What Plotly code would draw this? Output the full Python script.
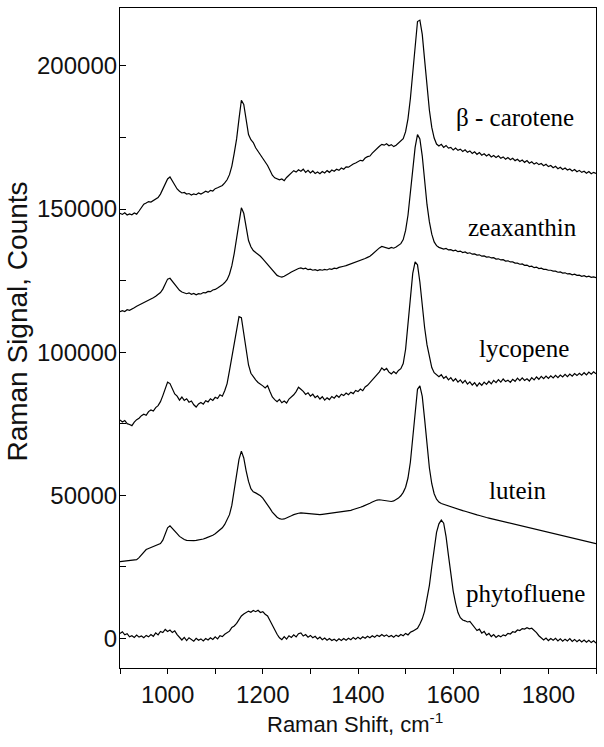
"""Raman spectra of five carotenoids, stacked with offsets"""

import plotly.graph_objects as go

# Raman shift grid, cm-1 (every 5 from 900 to 1900)
shift = list(range(900, 1901, 5))

# counts, one value per grid point
beta_carotene = [
    148500, 148100, 148700, 147900, 148300, 148000, 148600, 148200, 149300, 150600,
    151700, 152100, 152600, 152400, 153000, 153300, 154000, 155200, 156800, 158600,
    160500, 161200, 159800, 158300, 157000, 156200, 155600, 155800, 155200, 155400,
    154900, 155300, 155000, 155600, 155200, 155700, 156200, 155800, 156500, 156300,
    157100, 157400, 157900, 158200, 159100, 160200, 162000, 165000, 169500, 174500,
    181500, 188000, 186500, 180500, 176000, 174200, 173200, 171400, 170200, 169000,
    168000, 166800, 165200, 163500, 161800, 160900, 160600, 160200, 160500, 159900,
    161000, 161800, 162500, 163400, 162900, 163700, 163200, 163900, 162800, 163500,
    162600, 163300, 162400, 162900, 162300, 163100, 162600, 163400, 162800, 163600,
    163200, 163900, 163500, 164300, 163900, 164700, 164600, 165300, 165700, 166100,
    166500, 167000, 166800, 167800, 168300, 168500, 169500, 170400, 171000, 171900,
    172600, 172300, 172800, 172100, 172500, 171800, 172300, 173000, 173600, 174600,
    177000, 181500, 188500, 198000, 209000, 215500, 216000, 211000, 202000, 192500,
    184500, 178500, 174800, 172700, 172000, 172600, 171500, 172200, 171300, 171500,
    170600, 171300, 170500, 170900, 170100, 170700, 169800, 170300, 169400, 170000,
    169100, 169700, 168800, 169300, 168500, 169100, 168200, 168700, 168000, 168600,
    167700, 168200, 167400, 168000, 167200, 167700, 166900, 167400, 166600, 167100,
    166300, 166900, 166000, 166500, 165700, 166200, 165500, 165900, 165100, 165600,
    164800, 165200, 164400, 164900, 164100, 164600, 163800, 164300, 163600, 164000,
    163300, 163800, 163000, 163500, 162800, 163200, 162500, 163100, 162300, 162800,
    162400,
]

zeaxanthin = [
    114100, 114500, 114200, 114800, 114600, 115200, 115500, 116000, 116400, 116900,
    117300, 117800, 118100, 118600, 119000, 119500, 120100, 120800, 122000, 123600,
    125500, 125800, 124700, 123800, 122600, 121600, 121000, 120700, 120400, 120700,
    120200, 120500, 120000, 120400, 120300, 120800, 120700, 121200, 121100, 121700,
    121900, 122400, 122900, 123500, 124300, 125300, 127200, 130200, 134500, 140000,
    146500, 150400, 148500, 143500, 139000, 136800, 135500, 134800, 134200, 133500,
    132600, 131600, 130500, 129600, 128600, 127700, 126800, 126400, 126200, 126500,
    126900, 127500, 128000, 128500, 128900, 129200, 129400, 129100, 129300, 128800,
    129000, 128600, 128800, 128500, 128800, 128600, 128900, 128700, 129100, 128900,
    129300, 129200, 129600, 129700, 130000, 130200, 130500, 130700, 131000, 131300,
    131600, 131900, 132300, 132700, 133100, 133500, 134200, 135000, 135800, 136400,
    136900, 136700, 136500, 136200, 136600, 136300, 136700, 137200, 137900, 139300,
    142500, 147800, 155000, 163500, 171500, 176000, 174500, 168500, 159500, 151500,
    145500, 141200, 138500, 137200, 136600, 136400, 136000, 136200, 135700, 135800,
    135400, 135600, 135100, 135300, 134800, 135000, 134500, 134700, 134200, 134300,
    133900, 134000, 133500, 133600, 133200, 133300, 132900, 133000, 132500, 132600,
    132200, 132300, 131800, 131900, 131500, 131500, 131100, 131100, 130700, 130800,
    130300, 130400, 129900, 130000, 129500, 129700, 129200, 129300, 128900, 128900,
    128600, 128600, 128300, 128300, 127900, 128000, 127600, 127700, 127300, 127400,
    127000, 127200, 126800, 126900, 126500, 126700, 126300, 126500, 126100, 126300,
    126000,
]

lycopene = [
    76300, 75600, 76100, 75000, 74700, 74300, 75500, 76400, 76900, 77800,
    78300, 77900, 79200, 79800, 79400, 80600, 81300, 82700, 84800, 87600,
    89500, 89000, 87300, 85400, 84600, 83200, 84300, 83100, 83700, 82500,
    82900, 81600, 80800, 81900, 82400, 81800, 83000, 82600, 83700, 83100,
    84200, 83800, 85100, 84600, 86500, 89000, 93500, 98500, 103500, 107800,
    112400, 112000, 106000, 100500, 95500, 92600, 91200, 90300, 89400, 88900,
    88200, 87500, 88300, 86200, 84300, 83400, 82700, 83500, 82300, 82900,
    82200, 83600, 84300, 85100, 86200, 87700, 87000, 86300, 85200, 85800,
    84600, 85300, 84100, 84700, 83600, 84400, 83200, 84000, 83400, 84500,
    83900, 84900, 84200, 85300, 84800, 85700, 85100, 86000, 85500, 86600,
    86200, 87100, 86500, 87800, 88400, 89300, 90100, 91200, 92000, 93100,
    94500, 93700, 94300, 93000, 92400, 93200, 92500, 93600, 94200, 96000,
    101000, 109000, 119500, 127500, 131500, 130500, 124500, 116000, 108500, 102500,
    97800, 94600, 92800, 92000, 91400, 92100, 90800, 91500, 90300, 91100,
    89900, 90700, 89500, 90300, 89200, 90100, 88800, 89600, 88500, 89300,
    88100, 89200, 88400, 89500, 88700, 89800, 88900, 90100, 89300, 90400,
    89500, 90600, 89700, 90200, 89400, 90500, 89800, 90900, 90000, 91000,
    90100, 90700, 89900, 91100, 90300, 91300, 90500, 91500, 90700, 91600,
    90800, 91700, 91000, 91900, 91100, 92000, 91300, 92200, 91400, 92300,
    91600, 92500, 91800, 92600, 91900, 92800, 92000, 93000, 92300, 93100,
    92400,
]

lutein = [
    26800, 26900, 27000, 27000, 27100, 27200, 27300, 27500, 28200, 29200,
    30300, 31000, 31400, 31700, 32000, 32300, 32600, 33100, 34300, 36200,
    38600, 39300, 38500, 37600, 36600, 35600, 34900, 34500, 34200, 34100,
    34100, 34100, 34200, 34300, 34500, 34700, 35000, 35300, 35600, 36000,
    36500, 37100, 37800, 38600, 39800, 41300, 43200, 46500, 51500, 57000,
    62500, 65400, 63000, 58500, 54800, 52300, 51200, 50800, 50400, 49800,
    49000, 47900, 46700, 45400, 44100, 43100, 42300, 41800, 41600, 41700,
    42000, 42400, 42800, 43200, 43500, 43700, 43800, 43700, 43600, 43500,
    43400, 43300, 43200, 43200, 43200, 43300, 43400, 43500, 43600, 43700,
    43800, 43900, 44000, 44100, 44200, 44300, 44500, 44700, 45000, 45200,
    45500, 45800, 46100, 46400, 46800, 47200, 47600, 48000, 48300, 48400,
    48300, 48100, 47900, 47800, 47800, 48000, 48400, 49000, 49800, 51000,
    52800, 56000, 61500, 70000, 80500, 87000, 88200, 84500, 76500, 67500,
    59500, 54000, 50500, 48600, 47600, 47100, 46800, 46500, 46200, 45900,
    45600, 45400, 45100, 44900, 44600, 44400, 44100, 43900, 43600, 43400,
    43100, 42900, 42600, 42400, 42200, 42000, 41800, 41600, 41400, 41200,
    41000, 40800, 40600, 40500, 40300, 40100, 39900, 39700, 39500, 39300,
    39100, 38900, 38700, 38500, 38300, 38100, 37900, 37700, 37500, 37300,
    37100, 36900, 36700, 36500, 36300, 36100, 35900, 35700, 35500, 35300,
    35100, 34900, 34700, 34500, 34300, 34100, 33900, 33700, 33500, 33300,
    33100,
]

phytofluene = [
    1700, 2300, 1200, 1600, 500, 900, 300, 1100, 400, 800,
    200, 1000, 500, 1300, 700, 1900, 1200, 2400, 2000, 3100,
    2400, 2900, 2000, 2600, 1300, 400, -600, 300, -800, 200,
    -500, -1000, 0, -700, -200, -900, -100, -600, 200, -400,
    500, -200, 900, 600, 1400, 2000, 2500, 3800, 4300, 5200,
    6600, 7800, 8500, 8900, 9500, 9100, 9700, 9300, 9800, 9000,
    9300, 8400, 7800, 6200, 4500, 2800, 1400, 200, -500, 600,
    -300, 900, 300, 1200, 500, 1600, 1900, 800, 1300, 400,
    1000, 200, 700, -200, 400, -500, 100, -700, -100, -800,
    -300, -900, -200, -800, -100, -700, 0, -500, 300, -300,
    400, -200, 500, 0, 700, 200, 900, 400, 1100, 600,
    1300, 700, 1200, 500, 1000, 400, 1100, 600, 1300, 900,
    1700, 1200, 2100, 2500, 2900, 3500, 5000, 6800, 9500, 13500,
    18500, 25000, 32000, 37000, 40000, 41300, 40200, 35500, 29000, 22500,
    16500, 12300, 9000, 7200, 6400, 6100, 5700, 5900, 4800, 3600,
    2700, 3200, 1800, 2400, 1100, 1700, 600, 1300, 300, 1000,
    500, 1200, 900, 1700, 1500, 2300, 2100, 2900, 2700, 3400,
    3200, 3700, 3300, 3500, 2800, 2000, 900, 200, -600, 100,
    -800, -100, -700, 0, -900, -200, -1000, -300, -900, -100,
    -1100, -400, -1200, -500, -1300, -600, -1400, -700, -1500, -900,
    -1700,
]

spectra = [beta_carotene, zeaxanthin, lycopene, lutein, phytofluene]
names = ["β - carotene", "zeaxanthin", "lycopene", "lutein", "phytofluene"]

x_tick_vals = [1000, 1200, 1400, 1600, 1800]
x_tick_text = ["1000", "1200", "1400", "1600", "1800"]
y_tick_vals = [0, 50000, 100000, 150000, 200000]
y_tick_text = ["0", "50000", "100000", "150000", "200000"]
y_right_ticks = [25000, 75000, 125000, 175000]

x_range = [900, 1900]
y_range = [-10380, 220230]

# where each name sits (data coords)
label_pos = [(1730, 182000), (1745, 143700), (1748, 101100), (1735, 51500), (1752, 15800)]

fig = go.Figure()

for y in spectra:
    fig.add_trace(
        go.Scatter(x=shift, y=y, mode="lines", line=dict(color="black", width=1.2), hoverinfo="skip")
    )

for name, (lx, ly) in zip(names, label_pos):
    fig.add_annotation(
        x=lx, y=ly, text=name, showarrow=False, xanchor="center", yanchor="middle",
        font=dict(family="Liberation Serif, Times New Roman, serif", size=25, color="black"),
    )

# axis titles
fig.add_annotation(
    xref="paper", yref="paper", x=0.4947, y=-0.0833, text="Raman Shift, cm<sup>-1</sup>",
    showarrow=False, xanchor="center", yanchor="middle",
    font=dict(family="Liberation Sans, Arial, sans-serif", size=22, color="#111"),
)
fig.add_annotation(
    xref="paper", yref="paper", x=-0.2162, y=0.525, text="Raman Signal, Counts",
    textangle=-90, showarrow=False, xanchor="center", yanchor="middle",
    font=dict(family="Liberation Sans, Arial, sans-serif", size=28, color="#111"),
)

tick_font = dict(family="Liberation Sans, Arial, sans-serif", size=24, color="#111")

fig.update_xaxes(
    range=x_range, automargin=False,
    tickmode="array", tickvals=x_tick_vals, ticktext=x_tick_text,
    ticks="outside", ticklen=5, tickwidth=1, tickcolor="black",
    minor=dict(ticks="outside", dtick=100, tick0=900, ticklen=5, tickwidth=1, tickcolor="black", showgrid=False),
    showline=True, linecolor="black", linewidth=1.2, mirror=True,
    showgrid=False, zeroline=False, tickfont=tick_font,
)
fig.update_yaxes(
    range=y_range, automargin=False,
    tickmode="array", tickvals=y_tick_vals, ticktext=y_tick_text,
    ticks="inside", ticklen=6, tickwidth=1, tickcolor="black",
    minor=dict(ticks="inside", dtick=25000, tick0=0, ticklen=6, tickwidth=1, tickcolor="black", showgrid=False),
    showline=True, linecolor="black", linewidth=1.2, mirror=True,
    showgrid=False, zeroline=False, tickfont=tick_font, ticklabelstandoff=-3,
)

fig.update_layout(
    width=604, height=747,
    margin=dict(l=120, r=8, t=8, b=79),
    showlegend=False,
    plot_bgcolor="white",
    paper_bgcolor="white",
    yaxis2=dict(
        overlaying="y", side="right", range=y_range, automargin=False,
        tickmode="array", tickvals=y_right_ticks, showticklabels=False,
        ticks="inside", ticklen=6, tickwidth=1, tickcolor="black",
        showline=False, showgrid=False, zeroline=False,
    ),
)

# drop the default 8px page margin so the figure fills the window
fig.write_html(
    "out.html",
    config={"displayModeBar": False},
    post_script="document.body.style.margin = '0';",
)
